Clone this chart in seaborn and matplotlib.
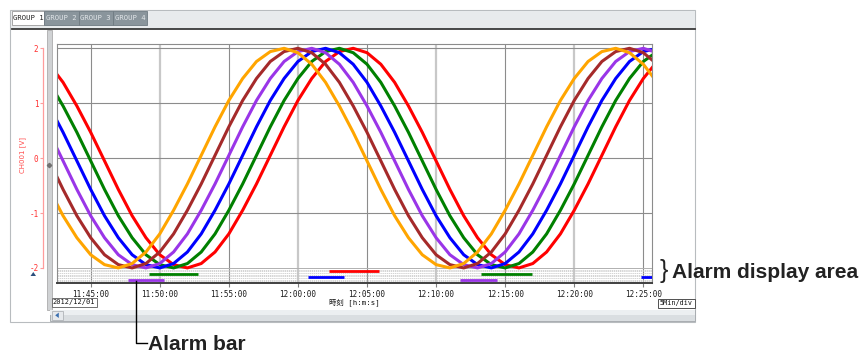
import numpy as np
import pandas as pd
import seaborn as sns
import matplotlib.pyplot as plt
from matplotlib.patches import Rectangle, Polygon

# ---- data (one sample per minute from 11:42) ----
start_time = "2012-12-01 11:42:00"
channels = ["CH001", "CH002", "CH003", "CH004", "CH005", "CH006"]
ch001 = [1.71, 1.38, 0.95, 0.47, -0.05, -0.57, -1.05, -1.45, -1.76, -1.94, -2.00, -1.92, -1.71, -1.38, -0.95,
         -0.47, 0.05, 0.57, 1.05, 1.45, 1.76, 1.94, 2.00, 1.92, 1.71, 1.38, 0.95, 0.47, -0.05, -0.57, -1.05,
         -1.45, -1.76, -1.94, -2.00, -1.92, -1.71, -1.38, -0.95, -0.47, 0.05, 0.57, 1.05, 1.45, 1.76]
ch002 = [1.38, 0.95, 0.47, -0.05, -0.57, -1.05, -1.45, -1.76, -1.94, -2.00, -1.92, -1.71, -1.38, -0.95,
         -0.47, 0.05, 0.57, 1.05, 1.45, 1.76, 1.94, 2.00, 1.92, 1.71, 1.38, 0.95, 0.47, -0.05, -0.57, -1.05,
         -1.45, -1.76, -1.94, -2.00, -1.92, -1.71, -1.38, -0.95, -0.47, 0.05, 0.57, 1.05, 1.45, 1.76, 1.94]
ch003 = [0.95, 0.47, -0.05, -0.57, -1.05, -1.45, -1.76, -1.94, -2.00, -1.92, -1.71, -1.38, -0.95,
         -0.47, 0.05, 0.57, 1.05, 1.45, 1.76, 1.94, 2.00, 1.92, 1.71, 1.38, 0.95, 0.47, -0.05, -0.57, -1.05,
         -1.45, -1.76, -1.94, -2.00, -1.92, -1.71, -1.38, -0.95, -0.47, 0.05, 0.57, 1.05, 1.45, 1.76, 1.94, 2.00]
ch004 = [0.47, -0.05, -0.57, -1.05, -1.45, -1.76, -1.94, -2.00, -1.92, -1.71, -1.38, -0.95,
         -0.47, 0.05, 0.57, 1.05, 1.45, 1.76, 1.94, 2.00, 1.92, 1.71, 1.38, 0.95, 0.47, -0.05, -0.57, -1.05,
         -1.45, -1.76, -1.94, -2.00, -1.92, -1.71, -1.38, -0.95, -0.47, 0.05, 0.57, 1.05, 1.45, 1.76, 1.94,
         2.00, 1.92]
ch005 = [-0.05, -0.57, -1.05, -1.45, -1.76, -1.94, -2.00, -1.92, -1.71, -1.38, -0.95,
         -0.47, 0.05, 0.57, 1.05, 1.45, 1.76, 1.94, 2.00, 1.92, 1.71, 1.38, 0.95, 0.47, -0.05, -0.57, -1.05,
         -1.45, -1.76, -1.94, -2.00, -1.92, -1.71, -1.38, -0.95, -0.47, 0.05, 0.57, 1.05, 1.45, 1.76, 1.94,
         2.00, 1.92, 1.71]
ch006 = [-0.57, -1.05, -1.45, -1.76, -1.94, -2.00, -1.92, -1.71, -1.38, -0.95,
         -0.47, 0.05, 0.57, 1.05, 1.45, 1.76, 1.94, 2.00, 1.92, 1.71, 1.38, 0.95, 0.47, -0.05, -0.57, -1.05,
         -1.45, -1.76, -1.94, -2.00, -1.92, -1.71, -1.38, -0.95, -0.47, 0.05, 0.57, 1.05, 1.45, 1.76, 1.94,
         2.00, 1.92, 1.71, 1.38]

alarm_channels = ["CH004", "CH002", "CH003", "CH001", "CH004", "CH002", "CH003"]
alarm_starts = ["11:47:41", "11:49:13", "12:00:45", "12:02:16", "12:11:45", "12:13:15", "12:24:49"]
alarm_ends = ["11:50:19", "11:52:47", "12:03:22", "12:05:53", "12:14:26", "12:16:55", "12:26:00"]

x_tick_labels = ["11:45:00", "11:50:00", "11:55:00", "12:00:00", "12:05:00",
                 "12:10:00", "12:15:00", "12:20:00", "12:25:00"]
y_ticks = [-2, -1, 0, 1, 2]
tab_labels = ["GROUP 1", "GROUP 2", "GROUP 3", "GROUP 4"]

# ---- styling ----
colors = {"CH001": "#ff0000", "CH002": "#008000", "CH003": "#0000ff",
          "CH004": "#9a35e8", "CH005": "#a52a2a", "CH006": "#ffa500"}
alarm_level = {"CH001": -2.06, "CH002": -2.115, "CH003": -2.17, "CH004": -2.225}

plt.rcParams["font.family"] = ["DejaVu Sans Mono", "Noto Sans CJK JP"]
plt.rcParams["axes.unicode_minus"] = False

W, H = 866, 356
fig = plt.figure(figsize=(W / 100, H / 100), dpi=100)

# background layer in pixel coordinates
bg = fig.add_axes([0, 0, 1, 1])
bg.set_xlim(0, W)
bg.set_ylim(H, 0)
bg.axis("off")

bg.add_patch(Rectangle((10, 10), 685, 312, fc="white", ec="#b8bcbf", lw=0.8))
bg.add_patch(Rectangle((10.5, 10.5), 684, 18, fc="#e8ebed", ec="none"))
bg.plot([12, 695], [28.6, 28.6], color="#3a3a3a", lw=1.3)

tab_x = [11.7, 44.3, 78.7, 112.7]
tab_w = [32.6, 34.4, 34.0, 34.6]
for i, (lab, x0, w) in enumerate(zip(tab_labels, tab_x, tab_w)):
    if i == 0:
        bg.add_patch(Rectangle((x0, 10.5), w, 14, fc="white", ec="#9a9a9a", lw=0.6))
        bg.text(x0 + w / 2, 17.6, lab, ha="center", va="center", fontsize=5.2, color="#202020")
    else:
        bg.add_patch(Rectangle((x0, 10.5), w, 14, fc="#8a959c", ec="#6f7a82", lw=0.6))
        bg.text(x0 + w / 2, 17.6, lab, ha="center", va="center", fontsize=5.2, color="#e2e6e9")

# splitter between scale panel and chart
bg.add_patch(Rectangle((47.3, 29.5), 4.5, 280, fc="#d0d2d4", ec="#a0a0a0", lw=0.5))
bg.plot([49.3], [165], marker="D", ms=2.2, color="#707070")

# scale label and marker
bg.text(22.5, 155, "CH001 [V]", rotation=90, ha="center", va="center",
        fontsize=5, color="#ff4a4a", family=["DejaVu Sans", "Noto Sans CJK JP"])
bg.add_patch(Polygon([(30.5, 276), (36, 276), (33.3, 272)], fc="#2c4f7c", ec="none"))

# bottom row: date, axis label, div
bg.add_patch(Rectangle((51.7, 297.7), 45, 9, fc="white", ec="#707070", lw=0.7))
bg.text(74.2, 302.4, "2012/12/01", ha="center", va="center", fontsize=5.0, color="#101010")
bg.text(354, 302.4, "時刻 [h:m:s]", ha="center", va="center", fontsize=5.3, color="#101010")
bg.add_patch(Rectangle((657.5, 298.5), 37, 9, fc="white", ec="#505050", lw=0.7))
bg.text(676, 303, "5Min/div", ha="center", va="center", fontsize=4.9, color="#101010")

# scroll bar
bg.add_patch(Rectangle((49.5, 310), 645, 10.5, fc="#dadee1", ec="#a8adb1", lw=0.7))
bg.add_patch(Rectangle((49.5, 310), 645, 4.5, fc="#eceff1", ec="none"))
bg.add_patch(Rectangle((52, 310.5), 11, 9.5, fc="#e6e9ec", ec="#b0b4b8", lw=0.6))
bg.add_patch(Polygon([(55.2, 315.3), (58.8, 312.6), (58.8, 318)], fc="#3a6fb0", ec="none"))

# ---- main trend chart ----
left, right, top, bottom = 57.3, 652.3, 44.3, 283.3
ax = fig.add_axes([left / W, (H - bottom) / H, (right - left) / W, (bottom - top) / H])
ymin, ymax = -2.28, 2.073

times = pd.date_range(start_time, periods=len(ch001), freq="1min")
series = [ch001, ch002, ch003, ch004, ch005, ch006]
df = pd.concat([pd.DataFrame({"time": times, "value": vals, "channel": ch})
                for ch, vals in zip(channels, series)], ignore_index=True)

day = "2012-12-01 "
tick_times = pd.to_datetime([day + t for t in x_tick_labels])

for t in tick_times:
    if t.minute % 10 == 0:
        ax.axvline(t, color="#c8c8c8", lw=1.6, zorder=0.5)
    else:
        ax.axvline(t, color="#8c8c8c", lw=0.8, zorder=0.6)
for yv in y_ticks[1:]:
    ax.axhline(yv, color="#8c8c8c", lw=0.8, zorder=0.6)

# alarm display area
ax.axhline(-2.0, color="#b0b0b0", lw=0.7, zorder=0.7)
for yv in np.linspace(-2.03, -2.245, 8):
    ax.axhline(yv, color="#c4c4c4", lw=0.5, ls=(0, (2, 1)), zorder=0.7)

sns.lineplot(data=df, x="time", y="value", hue="channel", hue_order=channels,
             palette=colors, linewidth=2.2, legend=False, estimator=None, sort=False, ax=ax)

for ch, s, e in zip(alarm_channels, alarm_starts, alarm_ends):
    ax.hlines(alarm_level[ch], pd.Timestamp(day + s), pd.Timestamp(day + e),
              color=colors[ch], lw=2.0, zorder=3)

ax.set_xlim(pd.Timestamp(day + "11:42:35"), pd.Timestamp(day + "12:25:39"))
ax.set_ylim(ymin, ymax)
ax.set_xticks(tick_times)
ax.set_xticklabels(x_tick_labels)
ax.set_yticks([])
ax.set_xlabel("")
ax.set_ylabel("")
ax.tick_params(axis="x", length=3, width=0.8, color="#808080", pad=2,
               labelsize=5.5, labelcolor="#1a1a1a")
for s in ["top", "left", "right"]:
    ax.spines[s].set_color("#8c8c8c")
    ax.spines[s].set_linewidth(0.8)
ax.spines["bottom"].set_color("#404040")
ax.spines["bottom"].set_linewidth(1.4)

# red scale on the left panel
sc = fig.add_axes([43.3 / W, (H - bottom) / H, 0.0005, (bottom - top) / H])
sc.set_ylim(ymin, ymax)
sc.patch.set_visible(False)
for s in ["top", "right", "bottom"]:
    sc.spines[s].set_visible(False)
sc.spines["left"].set_bounds(-2, 2)
sc.spines["left"].set_color("#ff9c9c")
sc.spines["left"].set_linewidth(0.9)
sc.set_xticks([])
sc.set_yticks(y_ticks)
sc.set_yticklabels([str(v) for v in y_ticks])
sc.tick_params(axis="y", length=2.5, width=0.8, color="#ff9c9c", pad=1,
               labelsize=5.5, labelcolor="#ff3030")

# ---- annotations on top ----
fg = fig.add_axes([0, 0, 1, 1])
fg.set_xlim(0, W)
fg.set_ylim(H, 0)
fg.axis("off")
fg.plot([135.7, 135.7, 146.5], [280.7, 343, 343], color="black", lw=1.0)
fg.text(148, 344.5, "Alarm bar", ha="left", va="center", fontsize=15,
        fontweight="bold", color="#222222", family="Liberation Sans")
fg.text(660, 271, "}", ha="left", va="center", fontsize=18, color="#222222",
        family="Liberation Sans")
fg.text(671.5, 272, "Alarm display area", ha="left", va="center", fontsize=15,
        fontweight="bold", color="#222222", family="Liberation Sans")

fig.savefig("out.png", dpi=100)
